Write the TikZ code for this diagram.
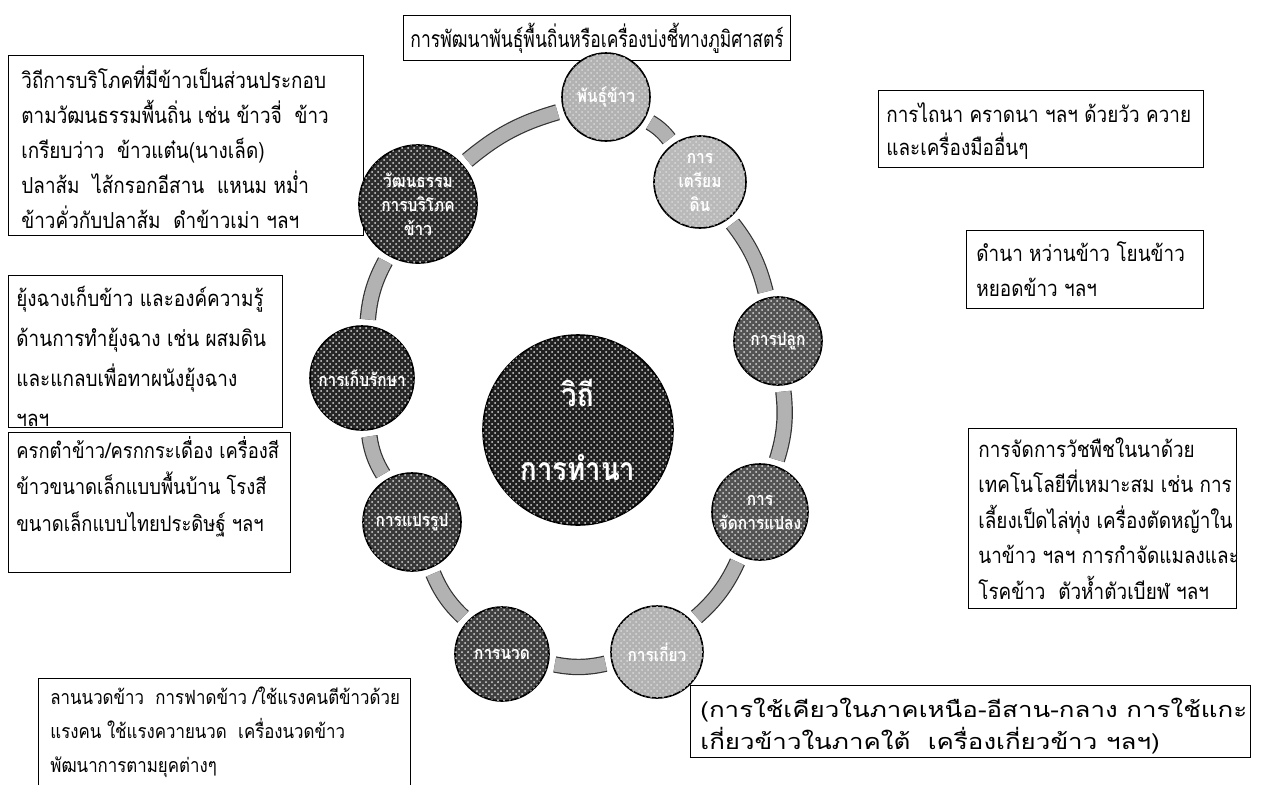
\documentclass[tikz,border=0pt]{standalone}
\usepackage{fontspec}
\newfontfamily\thai[Script=Thai,FakeStretch=0.86]{Loma}
\newfontfamily\thaititle[Script=Thai,FakeStretch=0.76]{Loma}
\newfontfamily\thaiwide[Script=Thai,FakeStretch=1.2]{Loma}
\usetikzlibrary{patterns}
\begin{document}
\begin{tikzpicture}[x=0.5pt,y=-0.5pt,
  box/.style={draw=black, line width=0.6pt, fill=white, inner sep=0pt, anchor=north west},
  txt/.style={font=\thai\fontsize{11}{17.5}\selectfont, align=left, inner sep=0pt, anchor=north west},
  circ/.style={circle, draw=black, line width=0.8pt, fill=gray!70!black, text=white, font=\thai\bfseries\fontsize{9}{12}\selectfont, align=center, inner sep=0pt, postaction={pattern=crosshatch dots, pattern color=white!70!gray}},
  band/.style={draw=black!80, line width=0.6pt, double=gray!60, double distance=7pt, shorten >=3pt, shorten <=3pt}]
\fill[white] (0,0) rectangle (1266,784);
\useasboundingbox (0,0) rectangle (1266,784);
% boxes
\node[box, minimum width=193.5pt, minimum height=22.5pt] (bt) at (403,15) {};
\node[font=\thaititle\fontsize{11.5}{15}\selectfont, inner sep=0pt] (tt) at (bt.center) {การพัฒนาพันธุ์พื้นถิ่นหรือเครื่องบ่งชี้ทางภูมิศาสตร์};
\node[box, minimum width=177.5pt, minimum height=90pt] (b8) at (8,55) {};
\node[txt] (t8) at ([shift={(13,10)}]b8.north west) {วิถีการบริโภคที่มีข้าวเป็นส่วนประกอบ\\ตามวัฒนธรรมพื้นถิ่น เช่น ข้าวจี่~~ข้าว\\เกรียบว่าว~~ข้าวแต๋น(นางเล็ด)\\ปลาส้ม~~ไส้กรอกอีสาน~~แหนม หม่ำ\\ข้าวคั่วกับปลาส้ม~~ดำข้าวเม่า ฯลฯ};
\node[box, minimum width=162.5pt, minimum height=38.5pt] (b1) at (878,90) {};
\node[txt, font=\thai\fontsize{11}{16.5}\selectfont] (t1) at ([shift={(8,12)}]b1.north west) {การไถนา คราดนา ฯลฯ ด้วยวัว ควาย\\และเครื่องมืออื่นๆ};
\node[box, minimum width=118.5pt, minimum height=39pt] (b2) at (966,230) {};
\node[txt] (t2) at ([shift={(10,11)}]b2.north west) {ดำนา หว่านข้าว โยนข้าว\\หยอดข้าว ฯลฯ};
\node[box, minimum width=137pt, minimum height=76pt] (b7) at (8,275) {};
\node[txt, font=\thai\fontsize{11}{20}\selectfont] (t7) at ([shift={(8,11)}]b7.north west) {ยุ้งฉางเก็บข้าว และองค์ความรู้\\ด้านการทำยุ้งฉาง เช่น ผสมดิน\\และแกลบเพื่อทาผนังยุ้งฉาง\\ฯลฯ};
\node[box, minimum width=134pt, minimum height=90pt] (b3) at (968,428) {};
\node[txt, font=\thai\fontsize{11}{17.75}\selectfont] (t3) at ([shift={(10,9)}]b3.north west) {การจัดการวัชพืชในนาด้วย\\เทคโนโลยีที่เหมาะสม เช่น การ\\เลี้ยงเป็ดไล่ทุ่ง เครื่องตัดหญ้าใน\\นาข้าว ฯลฯ การกำจัดแมลงและ\\โรคข้าว~~ตัวห้ำตัวเบียฬ ฯลฯ};
\node[box, minimum width=141pt, minimum height=70pt] (b6) at (8,432) {};
\node[txt, font=\thai\fontsize{10.7}{18.25}\selectfont] (t6) at ([shift={(8,4)}]b6.north west) {ครกตำข้าว/ครกกระเดื่อง เครื่องสี\\ข้าวขนาดเล็กแบบพื้นบ้าน โรงสี\\ขนาดเล็กแบบไทยประดิษฐ์ ฯลฯ};
\node[box, minimum width=186pt, minimum height=56pt] (b5) at (38,678) {};
\node[txt, font=\thai\fontsize{9.8}{17}\selectfont] (t5) at ([shift={(12,8)}]b5.north west) {ลานนวดข้าว~~การฟาดข้าว /ใช้แรงคนตีข้าวด้วย\\แรงคน ใช้แรงควายนวด~~เครื่องนวดข้าว\\พัฒนาการตามยุคต่างๆ};
\node[box, minimum width=280pt, minimum height=36pt] (b4) at (690,685) {};
\node[txt, font=\thaiwide\fontsize{10.8}{16}\selectfont] (t4) at ([shift={(10,13)}]b4.north west) {(การใช้เคียวในภาคเหนือ-อีสาน-กลาง การใช้แกะ\\เกี่ยวข้าวในภาคใต้~~เครื่องเกี่ยวข้าว ฯลฯ)};
% circles
\node[circ, fill=gray!60, minimum size=44pt] (c0) at (606,97) {พันธุ์ข้าว};
\node[circ, fill=gray!55, minimum size=46pt] (c1) at (700,182) {การ\\เตรียม\\ดิน};
\node[circ, fill=gray!65!black, minimum size=44pt] (c2) at (778,341) {การปลูก};
\node[circ, fill=gray!65!black, minimum size=48pt] (c3) at (760,512) {การ\\จัดการแปลง};
\node[circ, fill=gray!60, minimum size=46pt] (c4) at (657,652) {การเกี่ยว};
\node[circ, fill=gray!50!black, minimum size=47pt] (c5) at (502,654) {การนวด};
\node[circ, fill=gray!45!black, minimum size=49pt] (c6) at (412,522) {การแปรรูป};
\node[circ, fill=gray!30!black, minimum size=52pt] (c7) at (362,378) {การเก็บรักษา};
\node[circ, fill=gray!35!black, minimum size=59pt] (c8) at (418,204) {วัฒนธรรม\\การบริโภค\\ข้าว};
\node[circ, fill=gray!25!black, minimum size=95pt, font=\thai\bfseries\fontsize{16}{37}\selectfont] (cc) at (578,430) {วิถี\\การทำนา};
% bands
\draw[band] (c0) to[bend left=12] (c1);
\draw[band] (c1) to[bend left=12] (c2);
\draw[band] (c2) to[bend left=12] (c3);
\draw[band] (c3) to[bend left=12] (c4);
\draw[band] (c4) to[bend left=12] (c5);
\draw[band] (c5) to[bend left=12] (c6);
\draw[band] (c6) to[bend left=12] (c7);
\draw[band] (c7) to[bend left=12] (c8);
\draw[band] (c8) to[bend left=12] (c0);
\end{tikzpicture}
\end{document}
